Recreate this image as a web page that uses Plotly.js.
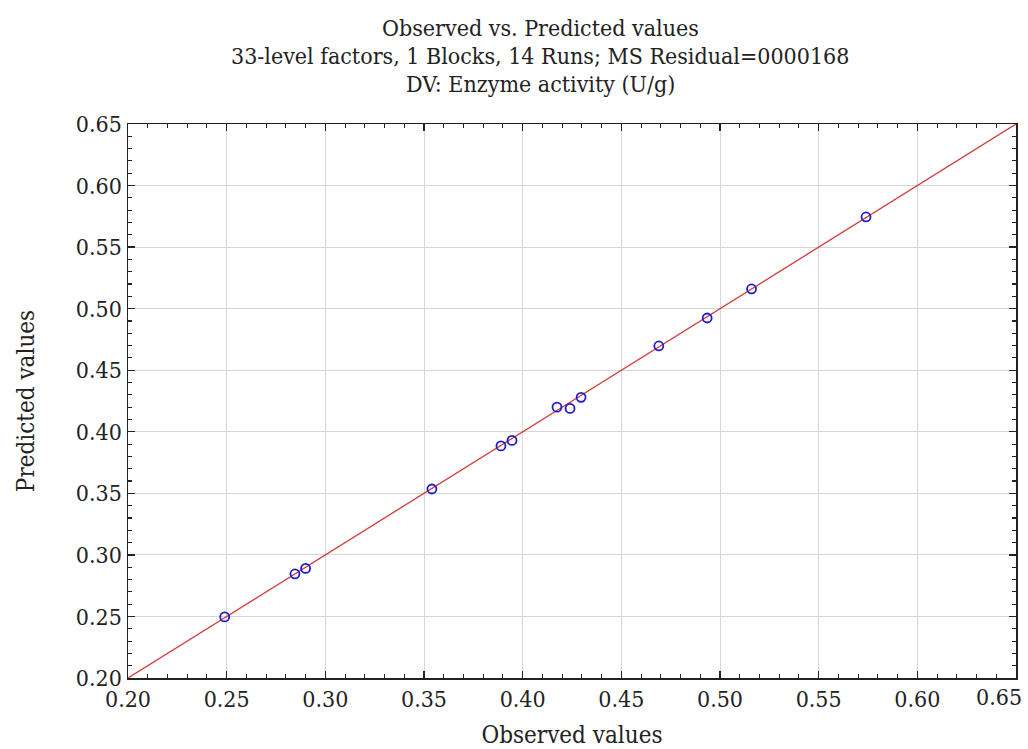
<!DOCTYPE html>
<html>
<head>
<meta charset="utf-8">
<script src="https://cdn.plot.ly/plotly-3.0.1.min.js"></script>
<style>html,body{margin:0;padding:0;background:#fff;}#chart{width:1028px;height:749px;}</style>
</head>
<body>
<div id="chart"></div>
<script>
// Observed vs predicted enzyme activity (U/g)
const observed  = [0.249, 0.2846, 0.290, 0.354, 0.389, 0.3946, 0.4174, 0.424, 0.4296, 0.469, 0.4935, 0.516, 0.574];
const predicted = [0.2496, 0.2845, 0.289, 0.3535, 0.3885, 0.393, 0.420, 0.419, 0.428, 0.4697, 0.4924, 0.516, 0.5745];
// Reference line y = x across the axis range
const refLine = [0.20, 0.65];
const tickVals = [0.20, 0.25, 0.30, 0.35, 0.40, 0.45, 0.50, 0.55, 0.60, 0.65];
const tickText = ["0.20","0.25","0.30","0.35","0.40","0.45","0.50","0.55","0.60","0.65"];
const titleLines = [
  'Observed vs. Predicted values',
  '33-level factors, 1 Blocks, 14 Runs; MS Residual=0000168',
  'DV: Enzyme activity (U/g)'
];

const FONT = "DejaVu Serif Condensed, DejaVu Serif, serif";

const traces = [
  {
    x: refLine, y: refLine, type: 'scatter', mode: 'lines',
    line: {color: '#d03a3a', width: 1.3}, hoverinfo: 'skip', showlegend: false
  },
  {
    x: observed, y: predicted, type: 'scatter', mode: 'markers',
    marker: {symbol: 'circle-open', size: 9, color: '#1f1fc8', line: {width: 1.8, color: '#1f1fc8'}},
    showlegend: false
  }
];

function axis(titleText, standoff, labels) {
  return {
    range: [0.20, 0.65],
    tickmode: 'array', tickvals: tickVals, ticktext: labels,
    ticks: 'inside', ticklen: 7, tickwidth: 1.3, tickcolor: '#222',
    showline: true, linecolor: '#222', linewidth: 1.5, mirror: 'allticks',
    showgrid: true, gridcolor: '#d6d6d6', gridwidth: 1,
    zeroline: false,
    tickfont: {family: FONT, size: 23, color: '#222'},
    minor: {dtick: 0.01, tick0: 0.2, ticks: 'inside', ticklen: 4, tickwidth: 1.1, tickcolor: '#222', showgrid: false},
    title: {text: titleText, font: {family: FONT, size: 24, color: '#222'}, standoff: standoff},
    fixedrange: true
  };
}

const titleY = [1.1733, 1.1227, 1.0722];
const annotations = titleLines.map((t, i) => ({
  text: t, xref: 'paper', yref: 'paper', x: 0.464, y: titleY[i],
  xanchor: 'center', yanchor: 'middle', showarrow: false,
  font: {family: FONT, size: 23, color: '#222'}
}));
// Last x tick label sits pushed inside the right edge, as in the reference
const xLabels = tickText.slice(0, -1).concat(['']);
annotations.push({
  text: tickText[tickText.length - 1], xref: 'paper', yref: 'paper',
  x: 1, xshift: 8, y: 0, yshift: -4, xanchor: 'right', yanchor: 'top', showarrow: false,
  font: {family: FONT, size: 23, color: '#222'}
});

const layout = {
  width: 1028, height: 749,
  paper_bgcolor: '#fff', plot_bgcolor: '#fff',
  margin: {l: 128, r: 12, t: 124, b: 71},
  font: {family: FONT, color: '#222'},
  annotations: annotations,
  xaxis: axis('Observed values', 16, xLabels),
  yaxis: axis('Predicted values', 34, tickText),
  showlegend: false
};

Plotly.newPlot('chart', traces, layout, {displayModeBar: false, staticPlot: true});
</script>
</body>
</html>
